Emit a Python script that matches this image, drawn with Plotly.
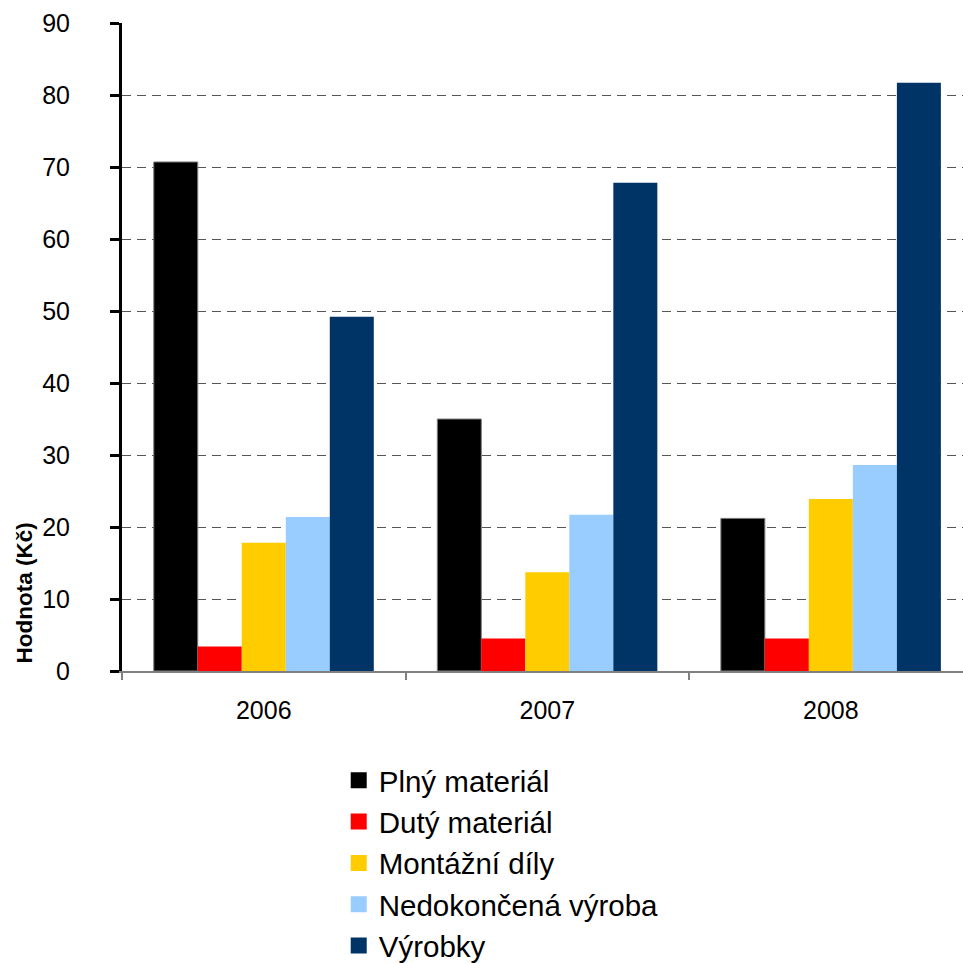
import plotly.graph_objects as go

# Inventory values by year (Kč)
years = ["2006", "2007", "2008"]
plny_material = [70.7, 35.0, 21.2]
duty_material = [3.4, 4.5, 4.5]
montazni_dily = [17.8, 13.7, 23.9]
nedokoncena_vyroba = [21.4, 21.7, 28.6]
vyrobky = [49.2, 67.8, 81.7]

series_names = ["Plný materiál", "Dutý materiál", "Montážní díly",
                "Nedokončená výroba", "Výrobky"]
series_values = [plny_material, duty_material, montazni_dily,
                 nedokoncena_vyroba, vyrobky]
colors = ["#000000", "#FF0000", "#FFCC00", "#99CCFF", "#003366"]
y_ticks = [0, 10, 20, 30, 40, 50, 60, 70, 80, 90]
y_title = "Hodnota (Kč)"

FONT = "Liberation Sans, Arial, sans-serif"

fig = go.Figure()
for name, vals, col in zip(series_names, series_values, colors):
    fig.add_trace(go.Bar(
        x=years, y=vals, name=name, showlegend=False,
        marker=dict(color=col,
                    line=dict(color="#808080" if col == "#000000" else col,
                              width=1 if col == "#000000" else 0)),
    ))
# legend keys as larger square swatches
for i, (name, col) in enumerate(zip(series_names, colors)):
    fig.add_trace(go.Scatter(
        x=[None], y=[None], mode="markers", name=name,
        legendgroup=f"g{i}",
        marker=dict(symbol="square", size=20, color=col),
    ))

# axis title sits low, beside the bottom of the value axis
fig.add_annotation(
    text=f"<b>{y_title}</b>", textangle=-90,
    xref="paper", yref="paper", x=-0.1165, y=0.0077,
    xanchor="center", yanchor="bottom", showarrow=False,
    font=dict(size=22.5, family=FONT, color="black"),
)

fig.update_layout(
    width=963, height=963,
    margin=dict(l=122, r=0, t=23, b=292),
    paper_bgcolor="white", plot_bgcolor="white",
    barmode="group", bargap=0.224, bargroupgap=0,
    font=dict(family=FONT, color="black"),
    showlegend=True,
    legend=dict(
        xref="paper", x=0.2577, xanchor="left",
        yref="container", y=0.2165, yanchor="top",
        font=dict(size=29.5, family=FONT, color="black"),
        tracegroupgap=0, itemsizing="trace",
        bgcolor="rgba(0,0,0,0)",
    ),
    xaxis=dict(
        type="category", range=[-0.5, 2.466],
        showline=True, linecolor="#808080", linewidth=1.5,
        ticks="outside", tickson="boundaries", ticklen=7,
        tickcolor="#808080", tickwidth=1.5,
        tickfont=dict(size=25, family=FONT, color="black"),
        ticklabelstandoff=16,
        showgrid=False, zeroline=False,
    ),
    yaxis=dict(
        range=[0, 90], tickvals=y_ticks,
        showline=True, linecolor="black", linewidth=3,
        ticks="outside", ticklen=9, tickwidth=3, tickcolor="black",
        tickfont=dict(size=25, family=FONT, color="black"),
        ticklabelstandoff=35,
        showgrid=True, gridcolor="#555555", gridwidth=1, griddash="9px,6px",
        zeroline=False,
    ),
)

fig.write_html("out.html")
